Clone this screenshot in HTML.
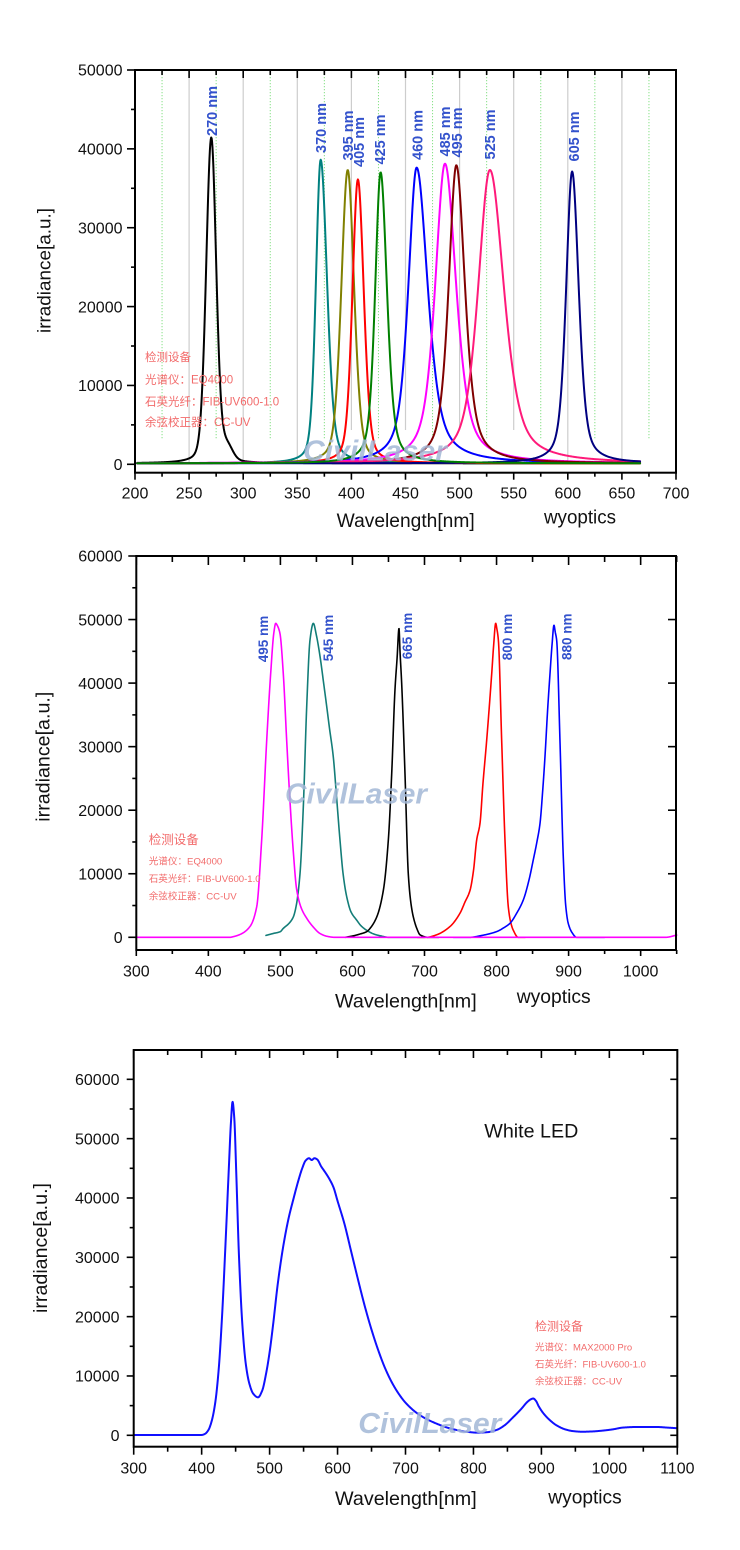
<!DOCTYPE html>
<html><head><meta charset="utf-8">
<style>
html,body{margin:0;padding:0;background:#fff;overflow:hidden;}
svg{display:block;}
text{font-family:"Liberation Sans","Noto Sans CJK SC",sans-serif;}
.tk{font-size:16px;fill:#111;}
.ax{fill:#111;}
.pk{font-weight:bold;fill:#3352cc;}
.an{fill:#f26b6b;}
.wm{font-weight:bold;font-style:italic;fill:#a3b8d6;font-size:29px;opacity:0.85;}
</style></head><body>
<svg id="s" width="740" height="1550" viewBox="0 0 740 1550" xmlns="http://www.w3.org/2000/svg">
<rect x="0" y="0" width="740" height="1550" fill="#fff"/>
<g id="grid"></g>
<g id="curves" fill="none" stroke-linejoin="round" stroke-linecap="round"></g>

<!-- watermarks -->
<text class="wm" x="303" y="460.7" textLength="144" lengthAdjust="spacingAndGlyphs">CivilLaser</text>
<text class="wm" x="285" y="803.3" textLength="142" lengthAdjust="spacingAndGlyphs">CivilLaser</text>
<text class="wm" x="358.3" y="1433" textLength="143" lengthAdjust="spacingAndGlyphs">CivilLaser</text>

<g id="ticks"></g>

<!-- ===== Chart 1 ===== -->
<g class="tk" text-anchor="end">
<text x="122.5" y="470">0</text>
<text x="122.5" y="391.1">10000</text>
<text x="122.5" y="312.3">20000</text>
<text x="122.5" y="233.4">30000</text>
<text x="122.5" y="154.6">40000</text>
<text x="122.5" y="75.7">50000</text>
</g>
<g class="tk" text-anchor="middle">
<text x="135" y="498.5">200</text>
<text x="189.1" y="498.5">250</text>
<text x="243.2" y="498.5">300</text>
<text x="297.3" y="498.5">350</text>
<text x="351.4" y="498.5">400</text>
<text x="405.5" y="498.5">450</text>
<text x="459.6" y="498.5">500</text>
<text x="513.7" y="498.5">550</text>
<text x="567.8" y="498.5">600</text>
<text x="621.9" y="498.5">650</text>
<text x="676" y="498.5">700</text>
</g>
<text class="ax" x="336.7" y="527" font-size="19" textLength="138" lengthAdjust="spacingAndGlyphs">Wavelength[nm]</text>
<text class="ax" x="544" y="523.5" font-size="19" textLength="72" lengthAdjust="spacingAndGlyphs">wyoptics</text>
<text class="ax" font-size="18" text-anchor="middle" transform="translate(50.5,270.5) rotate(-90)" textLength="125" lengthAdjust="spacingAndGlyphs">irradiance[a.u.]</text>

<g class="pk" font-size="14.5" text-anchor="middle">
<text dy="0.36em" transform="translate(212,111) rotate(-90)">270 nm</text>
<text dy="0.36em" transform="translate(320.7,128) rotate(-90)">370 nm</text>
<text dy="0.36em" transform="translate(348,135.5) rotate(-90)">395 nm</text>
<text dy="0.36em" transform="translate(359,142) rotate(-90)">405 nm</text>
<text dy="0.36em" transform="translate(380,139.5) rotate(-90)">425 nm</text>
<text dy="0.36em" transform="translate(417.5,135) rotate(-90)">460 nm</text>
<text dy="0.36em" transform="translate(445,131.5) rotate(-90)">485 nm</text>
<text dy="0.36em" transform="translate(457,132.5) rotate(-90)">495 nm</text>
<text dy="0.36em" transform="translate(489.7,134.5) rotate(-90)">525 nm</text>
<text dy="0.36em" transform="translate(574,136.5) rotate(-90)">605 nm</text>
</g>

<g class="an" font-size="11.5">
<text x="145" y="361">检测设备</text>
<text x="145" y="383.4">光谱仪：EQ4000</text>
<text x="145" y="405.4">石英光纤：FIB-UV600-1.0</text>
<text x="145" y="426">余弦校正器：CC-UV</text>
</g>

<!-- ===== Chart 2 ===== -->
<g class="tk" text-anchor="end">
<text x="122.7" y="943">0</text>
<text x="122.7" y="879.5">10000</text>
<text x="122.7" y="815.9">20000</text>
<text x="122.7" y="752.4">30000</text>
<text x="122.7" y="688.8">40000</text>
<text x="122.7" y="625.3">50000</text>
<text x="122.7" y="561.7">60000</text>
</g>
<g class="tk" text-anchor="middle">
<text x="136.3" y="976.7">300</text>
<text x="208.35" y="976.7">400</text>
<text x="280.4" y="976.7">500</text>
<text x="352.45" y="976.7">600</text>
<text x="424.5" y="976.7">700</text>
<text x="496.55" y="976.7">800</text>
<text x="568.6" y="976.7">900</text>
<text x="640.65" y="976.7">1000</text>
</g>
<text class="ax" x="335" y="1007.5" font-size="19.5" textLength="141.7" lengthAdjust="spacingAndGlyphs">Wavelength[nm]</text>
<text class="ax" x="516.7" y="1003" font-size="19.5" textLength="74" lengthAdjust="spacingAndGlyphs">wyoptics</text>
<text class="ax" font-size="19" text-anchor="middle" transform="translate(49.5,756.7) rotate(-90)" textLength="130" lengthAdjust="spacingAndGlyphs">irradiance[a.u.]</text>

<g class="pk" font-size="13.5" text-anchor="middle">
<text dy="0.36em" transform="translate(263.3,639) rotate(-90)">495 nm</text>
<text dy="0.36em" transform="translate(328.3,638) rotate(-90)">545 nm</text>
<text dy="0.36em" transform="translate(407.3,636) rotate(-90)">665 nm</text>
<text dy="0.36em" transform="translate(507.3,637) rotate(-90)">800 nm</text>
<text dy="0.36em" transform="translate(566.7,636.7) rotate(-90)">880 nm</text>
</g>

<g class="an">
<text x="148.7" y="844" font-size="12.5">检测设备</text>
<text x="148.7" y="864.3" font-size="9.6">光谱仪：EQ4000</text>
<text x="148.7" y="881.9" font-size="9.6">石英光纤：FIB-UV600-1.0</text>
<text x="148.7" y="899.3" font-size="9.6">余弦校正器：CC-UV</text>
</g>

<!-- ===== Chart 3 ===== -->
<g class="tk" text-anchor="end">
<text x="119.5" y="1441">0</text>
<text x="119.5" y="1381.7">10000</text>
<text x="119.5" y="1322.3">20000</text>
<text x="119.5" y="1263">30000</text>
<text x="119.5" y="1203.7">40000</text>
<text x="119.5" y="1144.4">50000</text>
<text x="119.5" y="1085">60000</text>
</g>
<g class="tk" text-anchor="middle">
<text x="133.7" y="1473.5">300</text>
<text x="201.65" y="1473.5">400</text>
<text x="269.6" y="1473.5">500</text>
<text x="337.55" y="1473.5">600</text>
<text x="405.5" y="1473.5">700</text>
<text x="473.45" y="1473.5">800</text>
<text x="541.4" y="1473.5">900</text>
<text x="609.35" y="1473.5">1000</text>
<text x="677.3" y="1473.5">1100</text>
</g>
<text class="ax" x="335" y="1505" font-size="19.5" textLength="141.7" lengthAdjust="spacingAndGlyphs">Wavelength[nm]</text>
<text class="ax" x="548.3" y="1503.3" font-size="19.5" textLength="73.4" lengthAdjust="spacingAndGlyphs">wyoptics</text>
<text class="ax" font-size="19" text-anchor="middle" transform="translate(47,1248) rotate(-90)" textLength="130" lengthAdjust="spacingAndGlyphs">irradiance[a.u.]</text>
<text class="ax" x="484.3" y="1137.3" font-size="19.5" textLength="94" lengthAdjust="spacingAndGlyphs">White LED</text>

<g class="an">
<text x="535" y="1330.5" font-size="12">检测设备</text>
<text x="535" y="1350.3" font-size="9.5">光谱仪：MAX2000 Pro</text>
<text x="535" y="1367.6" font-size="9.5">石英光纤：FIB-UV600-1.0</text>
<text x="535" y="1384.3" font-size="9.5">余弦校正器：CC-UV</text>
</g>
</svg>
<script>
(function(){
const NS='http://www.w3.org/2000/svg';
function el(p,tag,a){const e=document.createElementNS(NS,tag);for(const k in a)e.setAttribute(k,a[k]);p.appendChild(e);return e;}
const G=document.getElementById('grid'),C=document.getElementById('curves'),T=document.getElementById('ticks');
function line(p,x1,y1,x2,y2,st,w,extra){const a={x1:x1,y1:y1,x2:x2,y2:y2,stroke:st,'stroke-width':w};if(extra)for(const k in extra)a[k]=extra[k];return el(p,'line',a);}
function path(pts,color,w){let d='M'+pts[0][0].toFixed(2)+' '+pts[0][1].toFixed(2);for(let i=1;i<pts.length;i++)d+=' L'+pts[i][0].toFixed(2)+' '+pts[i][1].toFixed(2);el(C,'path',{d:d,stroke:color,'stroke-width':w});}
function mono(P){const xs=P.map(p=>p[0]),ys=P.map(p=>p[1]);const n=xs.length;const d=[],m=new Array(n);
 for(let i=0;i<n-1;i++)d.push((ys[i+1]-ys[i])/(xs[i+1]-xs[i]));
 m[0]=d[0];m[n-1]=d[n-2];
 for(let i=1;i<n-1;i++){if(d[i-1]*d[i]<=0)m[i]=0;else{const h0=xs[i]-xs[i-1],h1=xs[i+1]-xs[i];const w1=2*h1+h0,w2=h1+2*h0;m[i]=(w1+w2)/(w1/d[i-1]+w2/d[i]);}}
 return function(x){if(x<=xs[0])return ys[0];if(x>=xs[n-1])return ys[n-1];let i=0;while(x>xs[i+1])i++;const h=xs[i+1]-xs[i],t=(x-xs[i])/h,t2=t*t,t3=t2*t;
 return (2*t3-3*t2+1)*ys[i]+(t3-2*t2+t)*h*m[i]+(-2*t3+3*t2)*ys[i+1]+(t3-t2)*h*m[i+1];};}
function sampled(P,X,Y,step,color,w){const f=mono(P);const a=P[0][0],b=P[P.length-1][0];const pts=[];for(let x=a;x<=b+1e-9;x+=step)pts.push([X(x),Y(f(x))]);path(pts,color,w);}

/* ---------- Chart 1 ---------- */
const X1=v=>135+(v-200)*1.082, Y1=a=>464.3-a*0.007886;
for(let v=250;v<=650;v+=50){const y2=(v>=400&&v<=550)?430:464;line(G,X1(v),71,X1(v),y2,'#cdcdcd',1.2);}
for(let v=225;v<=675;v+=50){line(G,X1(v),71,X1(v),440,'#86e086',1,{'stroke-dasharray':'1.2,1.8'});}
function pv(x,p){const x0=p[0],A=p[1],w=x<x0?p[2]:p[3],eta=p[4];const u=(x-x0)/w;return A*(eta/(1+u*u)+(1-eta)*Math.exp(-0.6931*u*u));}
const peaks=[
 [270.5,41300,5.6,5.4,0.22,'#000000'],
 [371.6,38500,5.2,7.0,0.35,'#008080'],
 [396.6,37200,7.0,7.0,0.35,'#808000'],
 [406.0,36000,6.0,6.5,0.35,'#ff0000'],
 [460.3,37500,9.2,12.3,0.62,'#0000ff'],
 [486.5,38000,10.8,12.3,0.62,'#ff00ff'],
 [497.0,37800,8.5,9.5,0.62,'#800000'],
 [528.0,37200,13.0,15.5,0.58,'#ff1a7a'],
 [604.0,37000,6.6,7.3,0.5,'#000080'],
 [427.0,36900,6.0,7.0,0.5,'#008000']
];
peaks.forEach(function(p){const pts=[];for(let x=202;x<=667;x+=0.4){let v=pv(x,p)+120;if(p[0]===270.5){const u=(x-285)/6;v+=1700*Math.exp(-0.6931*u*u);}pts.push([X1(x),Y1(v)]);}path(pts,p[5],2);});
el(T,'rect',{x:135,y:70,width:541,height:402.7,fill:'none',stroke:'#000','stroke-width':2});
for(let v=0;v<=50000;v+=5000){const y=Y1(v);const L=(v%10000===0)?8:4;line(T,135-L,y,135,y,'#000',1.6);}
for(let v=200;v<=700;v+=25){const x=X1(v);const maj=v%50===0;line(T,x,472.7,x,472.7+(maj?7:4),'#000',1.6);line(T,x,70,x,70+(maj?8:5),'#000',1.6);}

/* ---------- Chart 2 ---------- */
const X2=v=>136.3+(v-300)*0.7205, Y2=a=>937.3-a*0.006355;
const teal=[[480,300],[490,600],[500,900],[504,1400],[512,2200],[517.9,3200],[522,5000],[527.2,10000],[531.8,20500],[536.5,36300],[541.1,46800],[545.7,49400],[550,47500],[555,44200],[560,40000],[564.3,36300],[568,33000],[573.4,28400],[578,22000],[582.7,15300],[587,10000],[592,6400],[598,4000],[605.9,2700],[612,1800],[619.8,1100],[630,500],[640,200],[650,0],[700,0]];
const blk=[[590,0],[600,200],[610,500],[620,900],[624.4,1400],[633.7,3200],[642.9,7400],[649.8,15300],[654.5,25800],[659,38900],[662,44000],[664.6,48600],[666,45000],[668.3,40000],[672.9,25800],[677.5,10000],[681,5500],[684.5,3200],[690,1200],[693.7,400],[705,0],[720,0]];
const red=[[690,0],[703,0],[717,400],[735.4,1700],[749.3,3800],[756,5500],[763.2,7400],[768,10500],[772.4,15300],[777,17900],[781,24000],[786.3,31000],[793.3,41500],[796,46000],[798.8,49400],[800.5,48500],[802.5,46800],[807.1,31000],[811.7,15300],[816.3,4800],[820,2200],[823.3,1100],[830,0],[840,0]];
const blu=[[740,0],[763,0],[780,300],[800.2,900],[810,1500],[818.6,2200],[828,3800],[837.2,5900],[845,9000],[851,12200],[856,15000],[860.3,17900],[864,23000],[867.2,28400],[871,36000],[874.2,41500],[877,46000],[879.7,49100],[881.5,48000],[883.4,46800],[888,31000],[892.6,12700],[896,5000],[899.5,2200],[905,700],[911,0],[950,0]];
const mag=[[300,0],[430,0],[434.6,100],[445,500],[457.8,1700],[467.1,4800],[474,15300],[481,31000],[486.5,41500],[491,48000],[493.5,49400],[496,49000],[499.4,47800],[504,41500],[508.7,31000],[513,22000],[517.9,13500],[522.6,7500],[529,4600],[536.5,3000],[545,1700],[555,600],[565,150],[575,0],[1035,0],[1050,350]];
sampled(teal,X2,Y2,0.4,'#137d78',1.6);
sampled(blk,X2,Y2,0.3,'#000000',1.6);
sampled(red,X2,Y2,0.3,'#ff0000',1.6);
sampled(blu,X2,Y2,0.3,'#0000ff',1.6);
sampled(mag,X2,Y2,0.4,'#ff00ff',1.6);
el(T,'rect',{x:136.3,y:556,width:539.7,height:394,fill:'none',stroke:'#000','stroke-width':2});
for(let v=0;v<=60000;v+=5000){const y=Y2(v);const maj=v%10000===0;line(T,136.3-(maj?8:4),y,136.3,y,'#000',1.6);if(maj&&v>0&&v<60000)line(T,676-8,y,676,y,'#000',1.6);}
for(let v=300;v<=1050;v+=50){const x=X2(v);const maj=v%100===0;line(T,x,556,x,556+(maj?9:6),'#000',1.6);line(T,x,950,x,950+(maj?6:4),'#000',1.6);}

/* ---------- Chart 3 ---------- */
const X3=v=>133.7+(v-300)*0.6795, Y3=a=>1435.3-a*0.005933;
const wl=[[300,60],[400,60],[405,250],[410,900],[415,2500],[420,5500],[425,11000],[430,20000],[435,32000],[440,45000],[443,52500],[445.5,56200],[448,53500],[451,44000],[455,30000],[460,18500],[465,12000],[470,8800],[476,7000],[483,6400],[489,7500],[495,10500],[500,14000],[505,18500],[512,25500],[520,31800],[528,36600],[535,39800],[542,42800],[548,45000],[553,46300],[558,46700],[562,46400],[566,46700],[570,46500],[576,45300],[582,44300],[588,43200],[594,41800],[600,39500],[610,35700],[620,31000],[630,26300],[640,21800],[650,17800],[660,14300],[670,11300],[680,8900],[690,7000],[700,5500],[715,3900],[730,2800],[745,2000],[760,1350],[775,900],[790,600],[805,450],[820,520],[834,900],[846,1700],[858,3000],[870,4400],[880,5700],[885,6100],[888,6200],[892,5800],[896,4900],[903,3700],[912,2600],[922,1700],[935,1000],[947,700],[960,600],[975,650],[991,800],[1005,1000],[1020,1300],[1040,1400],[1070,1400],[1085,1300],[1099,1200]];
sampled(wl,X3,Y3,0.4,'#1010ff',2);
el(T,'rect',{x:133.7,y:1050,width:543.6,height:396.7,fill:'none',stroke:'#000','stroke-width':2});
for(let v=0;v<=60000;v+=5000){const y=Y3(v);const maj=v%10000===0;line(T,133.7-(maj?7:4),y,133.7,y,'#000',1.6);if(maj)line(T,677.3-7,y,677.3,y,'#000',1.6);}
for(let v=300;v<=1100;v+=50){const x=X3(v);const maj=v%100===0;line(T,x,1050,x,1050+(maj?8:5),'#000',1.6);line(T,x,1446.7,x,1446.7+(maj?8:5),'#000',1.6);}
})();
</script>
</body></html>
